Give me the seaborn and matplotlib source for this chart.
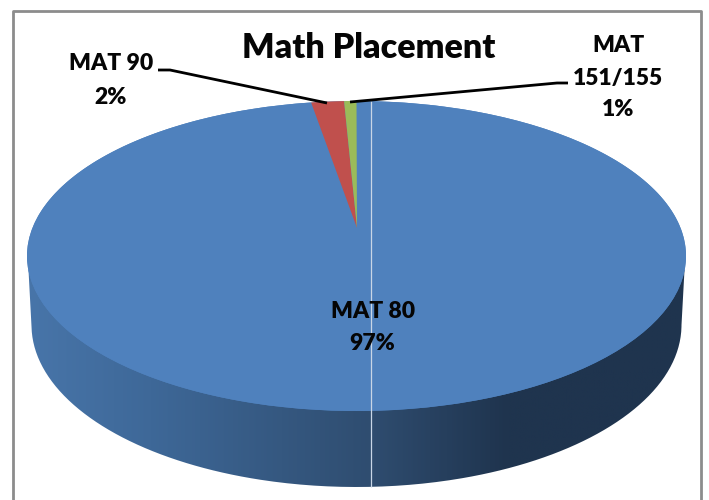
#!/usr/bin/env python3
"""Math placement shares, drawn as a tilted 3D style pie."""

import matplotlib

matplotlib.use("Agg")

import matplotlib.pyplot as plt
import numpy as np
import seaborn as sns
from matplotlib.colors import LinearSegmentedColormap
from matplotlib.patches import Ellipse, PathPatch
from matplotlib.path import Path

CATEGORIES = ["MAT 80", "MAT 90", "MAT 151/155"]
SHARES = [97.8, 1.6, 0.6]
SHOWN_PERCENT = ["97%", "2%", "1%"]
TITLE = "Math Placement"

sns.set_theme(style="white")
plt.rcParams["font.family"] = ["Lato", "DejaVu Sans"]

WIDTH, HEIGHT = 709, 500
FONT_COLOR = "#050505"
SLICE_COLORS = sns.color_palette(["#4f81bd", "#c0504d", "#9bbb59"])

# Ellipses of the pie, in picture pixels
CX, CY, RX, RY = 356.5, 256, 329.5, 155
BOTTOM_CX, BOTTOM_CY, BOTTOM_RX, BOTTOM_RY = 356.5, 325, 325, 162
APEX = (357, 228)
SEAM_X = 371


def to_ax(x, y):
    """Picture pixels to the pie's unit coordinates."""
    return (np.asarray(x, float) - CX) / RX, (CY - np.asarray(y, float)) / RY


def px_line(ax, xs, ys, **kwargs):
    ux, uy = to_ax(xs, ys)
    ax.plot(ux, uy, solid_capstyle="butt", solid_joinstyle="round", **kwargs)


fig = plt.figure(figsize=(WIDTH / 100, HEIGHT / 100), dpi=100, facecolor="white")
ax = fig.add_axes([0, 0, 1, 1])

# Side wall: lower half of the bottom ellipse, joined up to the top face
t = np.linspace(np.pi, 2 * np.pi, 300)
wall_x = BOTTOM_CX + BOTTOM_RX * np.cos(t)
wall_y = BOTTOM_CY - BOTTOM_RY * np.sin(t)
wall_x = np.r_[28.5, wall_x, 684.5]
wall_y = np.r_[270, wall_y, 270]
ux, uy = to_ax(wall_x, wall_y)
wall_path = PathPatch(Path(np.c_[ux, uy]), transform=ax.transData, fc="none", ec="none")
ax.add_patch(wall_path)

wall_cmap = LinearSegmentedColormap.from_list(
    "wall",
    [(0, "#4875a9"), (0.187, "#3e6898"), (0.52, "#2f4d70"), (0.73, "#1f344e"), (1, "#1f344e")],
)
x0, _ = to_ax(27, 0)
x1, _ = to_ax(686, 0)
_, y0 = to_ax(0, 495)
_, y1 = to_ax(0, 250)
wall = ax.imshow(
    np.linspace(0, 1, 400).reshape(1, -1),
    cmap=wall_cmap,
    extent=(x0, x1, y0, y1),
    aspect="auto",
    zorder=1,
)
wall.set_clip_path(wall_path)

# Top face
ax.add_patch(Ellipse((0, 0), 2, 2, fc=SLICE_COLORS[0], ec="none", zorder=2))
wedges, _ = ax.pie(
    SHARES,
    colors=SLICE_COLORS,
    startangle=90,
    counterclock=False,
    radius=1,
    center=(0, 0),
    wedgeprops={"linewidth": 0, "zorder": 3},
)
ax.set_aspect("auto")

# The tilt moves the slices' meeting point up from the ellipse centre
apex_x, apex_y = to_ax(*APEX)
for wedge, color in zip(wedges[1:], SLICE_COLORS[1:]):
    wedge.set_visible(False)
    angles = np.radians(np.linspace(wedge.theta1, wedge.theta2, 20))
    ax.fill(
        np.r_[apex_x, np.cos(angles)],
        np.r_[apex_y, np.sin(angles)],
        color=color,
        lw=0,
        zorder=4,
    )

ax.set_xlim(*to_ax(np.array([0, WIDTH]), 0)[0:1][0])
ax.set_ylim(*to_ax(0, np.array([HEIGHT, 0]))[1:2][0])
ax.axis("off")

# Light seam down the front of the pie
px_line(ax, [SEAM_X, SEAM_X], [101, 487], color="#c9d6e6", lw=0.9, zorder=5)

# Chart frame, open at the bottom of the picture
px_line(ax, [13, 13, 701, 701], [500, 11, 11, 500], color="#8c8c8c", lw=2.0, zorder=6)

# Leader lines
px_line(ax, [158, 170, 327], [70, 70, 103], color="black", lw=2.0, zorder=7)
px_line(ax, [350, 557, 568], [102, 83, 83], color="black", lw=2.0, zorder=7)


def px_text(x, y, text, size):
    fig.text(
        x / WIDTH,
        1 - y / HEIGHT,
        text,
        ha="center",
        va="center_baseline",
        fontsize=size,
        fontweight="heavy",
        color=FONT_COLOR,
        zorder=8,
    )


LABEL_SIZE = 16.5
px_text(369, 45, TITLE, 24.5)
px_text(373, 309, CATEGORIES[0], LABEL_SIZE)
px_text(372, 342, SHOWN_PERCENT[0], LABEL_SIZE)
px_text(111, 62, CATEGORIES[1], LABEL_SIZE)
px_text(111, 96, SHOWN_PERCENT[1], LABEL_SIZE)
cat3_top, cat3_bottom = CATEGORIES[2].split(" ")
px_text(618, 44, cat3_top, LABEL_SIZE)
px_text(618, 76, cat3_bottom, LABEL_SIZE)
px_text(618, 108, SHOWN_PERCENT[2], LABEL_SIZE)

fig.savefig("out.png", dpi=100)
